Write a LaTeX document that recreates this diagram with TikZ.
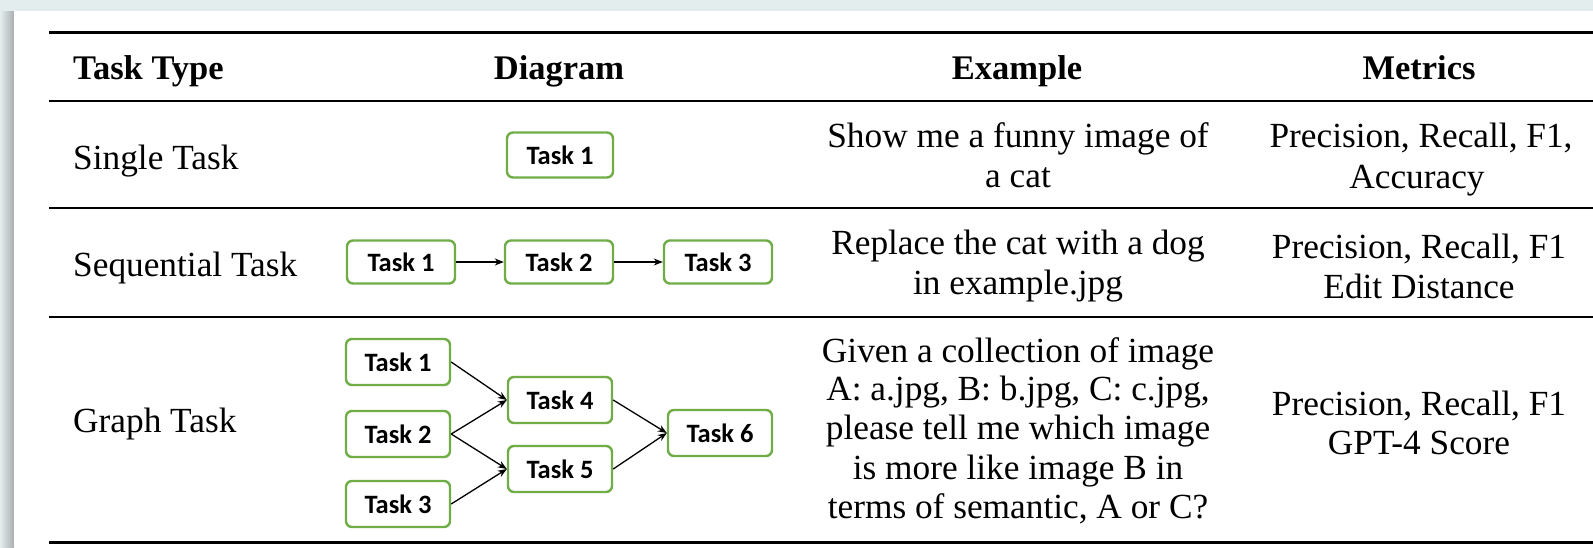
\documentclass[tikz,border=0pt]{standalone}
\usepackage{fontspec}
\setmainfont{Liberation Serif}
\newfontfamily\boxfont{Carlito}
\usetikzlibrary{arrows.meta}
\definecolor{boxgreen}{RGB}{112,173,71}
\definecolor{bgtop}{RGB}{228,237,238}
\definecolor{shadowgray}{RGB}{170,175,176}
\begin{document}
\begin{tikzpicture}[x=1pt,y=-1pt,
  taskbox/.style={draw=boxgreen, line width=2.4pt, rounded corners=6pt, fill=white,
    minimum width=106pt, minimum height=45pt, inner sep=0pt,
    font=\boxfont\bfseries\fontsize{26.5}{30}\selectfont},
  celltext/.style={font=\fontsize{35.3}{40}\selectfont, anchor=base, inner sep=0pt},
  headtext/.style={font=\fontsize{34.5}{40}\selectfont\bfseries, anchor=base, inner sep=0pt},
  rowtext/.style={font=\fontsize{35.3}{40}\selectfont, anchor=base west, inner sep=0pt},
  flow/.style={line width=1.3pt, -{Stealth[length=9pt,width=7pt]}},
  thickrule/.style={line width=3pt},
  thinrule/.style={line width=2pt}]
\useasboundingbox (0,0) rectangle (1593,547);
% screenshot background
\fill[bgtop] (0,0) rectangle (1593,547);
\shade[left color=bgtop, right color=shadowgray] (0,11) rectangle (14,547);
\fill[white] (14,11) rectangle (1593,547);
% rules
\draw[thickrule] (49,32) -- (1593,32);
\draw[thinrule] (49,101) -- (1593,101);
\draw[thinrule] (49,208) -- (1593,208);
\draw[thinrule] (49,317) -- (1593,317);
\draw[thickrule] (49,542) -- (1593,542);
% header
\node[headtext, anchor=base west] (h1) at (73,79) {Task Type};
\node[headtext] (h2) at (559,79) {Diagram};
\node[headtext] (h3) at (1017,79) {Example};
\node[headtext] (h4) at (1419,79) {Metrics};
% row 1
\node[rowtext] (r1) at (73,169) {Single Task};
\node[taskbox] (s1) at (560,155) {Task 1};
\node[celltext] (e1a) at (1018,147) {Show me a funny image of};
\node[celltext] (e1b) at (1018,187) {a cat};
\node[celltext] (m1a) at (1421,147) {Precision, Recall, F1,};
\node[celltext] (m1b) at (1417,188) {Accuracy};
% row 2
\node[rowtext] (r2) at (73,276) {Sequential Task};
\node[taskbox, minimum width=108pt, minimum height=43pt] (q1) at (401,262) {Task 1};
\node[taskbox, minimum width=108pt, minimum height=43pt] (q2) at (559,262) {Task 2};
\node[taskbox, minimum width=108pt, minimum height=43pt] (q3) at (718,262) {Task 3};
\draw[flow] (q1) -- (q2);
\draw[flow] (q2) -- (q3);
\node[celltext] (e2a) at (1018,254) {Replace the cat with a dog};
\node[celltext] (e2b) at (1018,294) {in example.jpg};
\node[celltext] (m2a) at (1419,258) {Precision, Recall, F1};
\node[celltext] (m2b) at (1419,298) {Edit Distance};
% row 3
\node[rowtext] (r3) at (73,432) {Graph Task};
\node[taskbox, minimum width=104pt, minimum height=46pt] (g1) at (398,362) {Task 1};
\node[taskbox, minimum width=104pt, minimum height=46pt] (g2) at (398,434) {Task 2};
\node[taskbox, minimum width=104pt, minimum height=46pt] (g3) at (398,504) {Task 3};
\node[taskbox, minimum width=104pt, minimum height=46pt] (g4) at (560,400) {Task 4};
\node[taskbox, minimum width=104pt, minimum height=46pt] (g5) at (560,469) {Task 5};
\node[taskbox, minimum width=104pt, minimum height=46pt] (g6) at (720,433) {Task 6};
\draw[flow] (g1.east) -- (g4.west);
\draw[flow] (g2.east) -- (g4.west);
\draw[flow] (g2.east) -- (g5.west);
\draw[flow] (g3.east) -- (g5.west);
\draw[flow] (g4.east) -- (g6.west);
\draw[flow] (g5.east) -- (g6.west);
\node[celltext] (e3a) at (1018,362) {Given a collection of image};
\node[celltext] (e3b) at (1018,400) {A: a.jpg, B: b.jpg, C: c.jpg,};
\node[celltext] (e3c) at (1018,439) {please tell me which image};
\node[celltext] (e3d) at (1018,479) {is more like image B in};
\node[celltext] (e3e) at (1018,518) {terms of semantic, A or C?};
\node[celltext] (m3a) at (1419,415) {Precision, Recall, F1};
\node[celltext] (m3b) at (1419,454) {GPT-4 Score};
\end{tikzpicture}
\end{document}
